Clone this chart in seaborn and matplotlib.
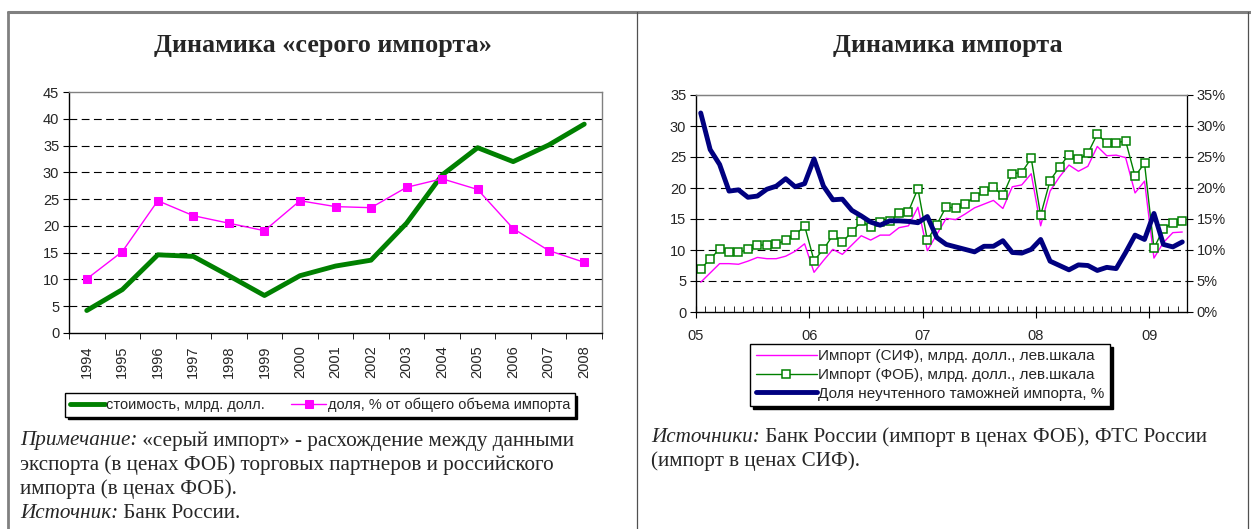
import numpy as np
import pandas as pd
import matplotlib
matplotlib.use("Agg")
import matplotlib.pyplot as plt
import matplotlib.ticker as mticker
from matplotlib.lines import Line2D
import seaborn as sns

# --- data: grey import (left panel) ---
years = [str(y) for y in range(1994, 2009)]
gray_value = [4.2, 8.1, 14.6, 14.3, 10.7, 7.0, 10.7, 12.5, 13.6, 20.5, 29.5, 34.6, 32.0, 35.1, 39.0]
gray_share = [10.1, 15.2, 24.7, 21.9, 20.5, 19.1, 24.7, 23.6, 23.4, 27.2, 28.8, 26.8, 19.5, 15.4, 13.2]

# --- data: monthly import, Jan 2005 - Apr 2009 (right panel) ---
year_labels = ["05", "06", "07", "08", "09"]
import_cif = [4.8, 6.3, 7.8, 7.8, 7.7, 8.2, 8.8, 8.6, 8.6, 9.0, 9.8, 11.0,
              6.4, 8.3, 10.1, 9.3, 10.8, 12.3, 11.6, 12.4, 12.4, 13.6, 13.9, 16.9,
              9.9, 12.5, 15.1, 14.9, 15.8, 16.8, 17.4, 18.0, 16.7, 20.2, 20.5, 22.3,
              13.9, 19.5, 21.8, 23.7, 22.7, 23.5, 26.7, 25.2, 25.3, 24.9, 19.2, 21.1,
              8.7, 11.2, 12.8, 12.9]
import_fob = [7.0, 8.5, 10.2, 9.7, 9.6, 10.1, 10.8, 10.8, 10.9, 11.6, 12.4, 13.9,
              8.3, 10.1, 12.4, 11.3, 12.9, 14.6, 13.7, 14.5, 14.6, 15.9, 16.2, 19.9,
              11.6, 14.1, 17.0, 16.7, 17.5, 18.5, 19.5, 20.1, 18.8, 22.3, 22.5, 24.8,
              15.6, 21.2, 23.4, 25.4, 24.6, 25.6, 28.7, 27.2, 27.3, 27.6, 21.9, 24.0,
              10.3, 13.4, 14.4, 14.6]
unrecorded_share = [32.1, 26.2, 23.8, 19.5, 19.7, 18.5, 18.7, 19.8, 20.3, 21.5, 20.2, 20.7,
                    24.7, 20.3, 18.1, 18.2, 16.4, 15.5, 14.5, 14.0, 14.7, 14.7, 14.6, 14.4,
                    15.4, 12.0, 10.9, 10.5, 10.1, 9.7, 10.6, 10.6, 11.5, 9.6, 9.5, 10.1,
                    11.7, 8.2, 7.5, 6.8, 7.6, 7.5, 6.7, 7.2, 7.0, 9.6, 12.4, 11.7,
                    15.9, 10.9, 10.5, 11.3]

GREEN = "#008000"
MAGENTA = "#FF00FF"
NAVY = "#000080"
GRID_LS = (0, (7, 4))
SANS = "Liberation Sans"
SERIF = "Liberation Serif"
TICK_SIZE = 10.5
LEGEND_SIZE = 10.5
TITLE_SIZE = 18.8
NOTE_SIZE = 15.2

sns.set_style("white")
plt.rcParams["font.family"] = [SANS, "DejaVu Sans"]

W, H = 1251, 529
fig = plt.figure(figsize=(W / 100, H / 100), dpi=100)


def px_box(x0, y0, x1, y1):
    """Axes rect from pixel corners (top-left origin)."""
    return [x0 / W, 1 - y1 / H, (x1 - x0) / W, (y1 - y0) / H]


def dashed_grid(ax, ticks, top):
    for t in ticks:
        if 0 < t < top:
            ax.axhline(t, color="black", lw=0.8, ls=GRID_LS, zorder=0.5)


def style_spines(ax):
    for s in ("left", "bottom"):
        ax.spines[s].set_color("black")
        ax.spines[s].set_linewidth(1.0)
    for s in ("top", "right"):
        ax.spines[s].set_color("#808080")
        ax.spines[s].set_linewidth(1.0)


# ---------------- left panel ----------------
ax1 = fig.add_axes(px_box(69, 92, 602, 333))
left_df = pd.DataFrame({"pos": np.arange(len(years)), "value": gray_value, "share": gray_share})
sns.lineplot(data=left_df, x="pos", y="value", ax=ax1, color=GREEN, lw=3.5,
             label="стоимость, млрд. долл.", legend=False)
sns.lineplot(data=left_df, x="pos", y="share", ax=ax1, color=MAGENTA, lw=1,
             marker="s", markersize=5.8, markeredgecolor=MAGENTA,
             label="доля, % от общего объема импорта", legend=False)
ax1.set_xlim(-0.5, len(years) - 0.5)
ax1.set_ylim(0, 45)
yt = np.arange(0, 50, 5)
ax1.set_yticks(yt)
dashed_grid(ax1, yt, 45)
ax1.set_xticks(left_df["pos"])
ax1.set_xticklabels(years, rotation=90)
ax1.set_xticks(np.arange(-0.5, len(years), 1), minor=True)
ax1.tick_params(axis="x", which="major", length=0, pad=9, labelsize=TICK_SIZE)
ax1.tick_params(axis="x", which="minor", length=4, direction="out", color="black", bottom=True)
ax1.tick_params(axis="y", length=4, direction="out", color="black", left=True, labelsize=TICK_SIZE, pad=3)
ax1.set_xlabel("")
ax1.set_ylabel("")
style_spines(ax1)

# ---------------- right panel ----------------
ax2 = fig.add_axes(px_box(696, 95, 1187, 312))
n = len(import_cif)
right_df = pd.DataFrame({"pos": np.arange(n) + 0.5, "cif": import_cif,
                         "fob": import_fob, "share": unrecorded_share})
sns.lineplot(data=right_df, x="pos", y="cif", ax=ax2, color=MAGENTA, lw=1,
             label="Импорт (СИФ), млрд. долл., лев.шкала", legend=False)
sns.lineplot(data=right_df, x="pos", y="fob", ax=ax2, color=GREEN, lw=1,
             marker="s", markersize=5.2, markerfacecolor="white", markeredgecolor=GREEN,
             markeredgewidth=1.1, label="Импорт (ФОБ), млрд. долл., лев.шкала", legend=False)
ax2.set_xlim(0, n)
ax2.set_ylim(0, 35)
yt2 = np.arange(0, 40, 5)
ax2.set_yticks(yt2)
dashed_grid(ax2, yt2, 35)
ax2.set_xticks(np.arange(0, n, 12))
ax2.set_xticklabels(year_labels)
ax2.set_xticks(np.arange(0, n + 1, 1), minor=True)
ax2.tick_params(axis="x", which="major", length=9, direction="inout", color="black",
                bottom=True, pad=8, labelsize=TICK_SIZE)
ax2.tick_params(axis="x", which="minor", length=4, direction="in", color="black", bottom=True)
ax2.tick_params(axis="y", length=4, direction="out", color="black", left=True, labelsize=TICK_SIZE, pad=3)
ax2.set_xlabel("")
ax2.set_ylabel("")
style_spines(ax2)

ax3 = ax2.twinx()
sns.lineplot(data=right_df, x="pos", y="share", ax=ax3, color=NAVY, lw=3.5,
             label="Доля неучтенного таможней импорта, %", legend=False)
ax3.set_ylim(0, 35)
ax3.set_yticks(yt2)
ax3.yaxis.set_major_formatter(mticker.PercentFormatter(xmax=100, decimals=0))
ax3.tick_params(axis="y", length=4, direction="out", color="black", right=True, labelsize=TICK_SIZE, pad=3)
ax3.set_ylabel("")
ax3.spines["right"].set_color("black")
ax3.spines["top"].set_color("#808080")
for s in ("left", "bottom"):
    ax3.spines[s].set_visible(False)

# ---------------- titles ----------------
fig.text(323 / W, 1 - 46 / H, "Динамика «серого импорта»", ha="center", va="center",
         family=SERIF, fontweight="bold", fontsize=TITLE_SIZE)
fig.text(948 / W, 1 - 46 / H, "Динамика импорта", ha="center", va="center",
         family=SERIF, fontweight="bold", fontsize=TITLE_SIZE)

# ---------------- legends ----------------
shadow = {"color": "black", "alpha": 1.0}
h1, l1 = ax1.get_legend_handles_labels()
fig.legend(h1, l1, loc="center", bbox_to_anchor=(320 / W, 1 - 405 / H), ncol=2,
           frameon=True, fancybox=False, edgecolor="black", framealpha=1,
           fontsize=LEGEND_SIZE, handlelength=2.4, handletextpad=0.1, columnspacing=1.8,
           borderpad=0.3, numpoints=1, shadow=shadow)
h2, l2 = ax2.get_legend_handles_labels()
h3, l3 = ax3.get_legend_handles_labels()
fig.legend(h2 + h3, l2 + l3, loc="center", bbox_to_anchor=(930 / W, 1 - 375 / H), ncol=1,
           frameon=True, fancybox=False, edgecolor="black", framealpha=1,
           fontsize=LEGEND_SIZE + 0.5, handlelength=4.0, handletextpad=0.1, labelspacing=0.3,
           borderpad=0.35, borderaxespad=0, numpoints=1, shadow=shadow)
for leg in fig.legends:
    leg.get_frame().set_linewidth(1.0)
    leg.set_zorder(5)

# ---------------- notes ----------------
renderer = fig.canvas.get_renderer()


def note_line(x_px, y_px, parts):
    x = x_px / W
    for txt, style in parts:
        t = fig.text(x, 1 - y_px / H, txt, ha="left", va="center", family=SERIF,
                     fontstyle=style, fontsize=NOTE_SIZE)
        x += t.get_window_extent(renderer).width / W


note_line(20, 441, [("Примечание:", "italic"), (" «серый импорт» - расхождение между данными", "normal")])
note_line(20, 465, [("экспорта (в ценах ФОБ) торговых партнеров и российского", "normal")])
note_line(20, 489, [("импорта (в ценах ФОБ).", "normal")])
note_line(20, 513, [("Источник:", "italic"), (" Банк России.", "normal")])
note_line(651, 437, [("Источники:", "italic"), (" Банк России (импорт в ценах ФОБ), ФТС России", "normal")])
note_line(651, 461, [("(импорт в ценах СИФ).", "normal")])

# ---------------- page frame ----------------
frame = "#808080"
fig.add_artist(Line2D([8 / W, 1], [1 - 12 / H, 1 - 12 / H], color=frame, lw=2.2))
fig.add_artist(Line2D([8 / W, 8 / W], [0, 1 - 12 / H], color=frame, lw=2.0))
fig.add_artist(Line2D([637 / W, 637 / W], [0, 1 - 12 / H], color="#505050", lw=0.9))
fig.add_artist(Line2D([1248 / W, 1248 / W], [0, 1 - 12 / H], color="#505050", lw=0.9))

fig.savefig("out.png", dpi=100)
